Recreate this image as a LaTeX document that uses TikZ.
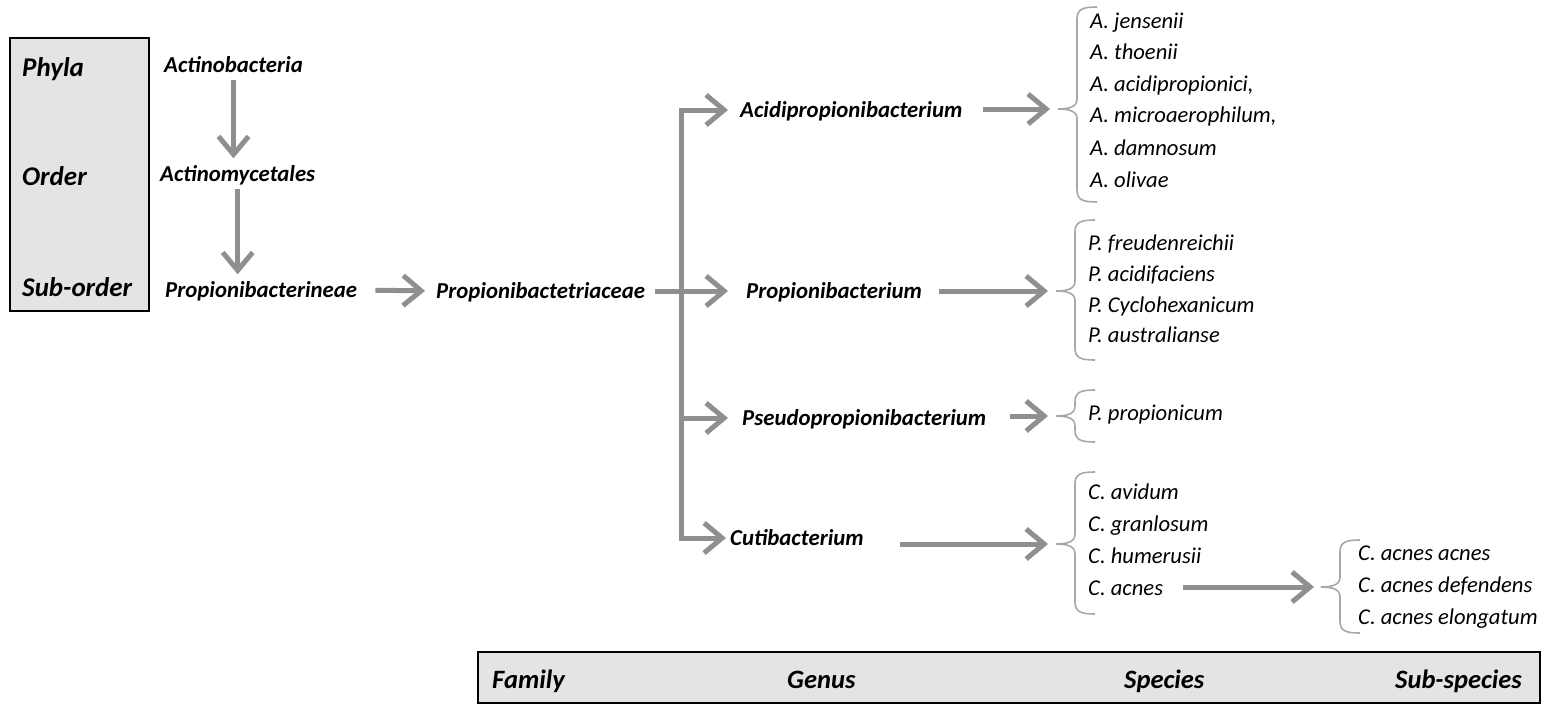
\documentclass[tikz,border=0pt]{standalone}
\usepackage{fontspec}
\setmainfont{Carlito}
\usetikzlibrary{arrows.meta}
\definecolor{arrgray}{HTML}{8F8F8F}
\definecolor{brgray}{HTML}{A8A8A8}
\definecolor{boxgray}{HTML}{E4E4E4}
\newcommand\taxbrace[5]{% name, X, M, T, B
 \draw[brc] (#2+20,#4) .. controls (#2+6,#4) and (#2,#4+2) .. (#2,#4+12) -- (#2,#3-10) .. controls (#2,#3-3) and (#2-6,#3) .. (#2-19,#3) .. controls (#2-6,#3) and (#2,#3+3) .. (#2,#3+10) -- (#2,#5-12) .. controls (#2,#5-2) and (#2+6,#5) .. (#2+20,#5);
 \coordinate (#1) at (#2-19,#3);}
\tikzset{
 arr/.style={draw=arrgray, line width=5pt, -{Straight Barb[length=18pt,width=30pt,line width=5pt]}},
 trunk/.style={draw=arrgray, line width=5pt},
 brc/.style={draw=brgray, line width=1.6pt},
 rankbox/.style={draw=black, fill=boxgray, line width=1.5pt},
 lvl/.style={font=\fontsize{22.8}{27}\selectfont\bfseries\itshape, inner sep=0pt, anchor=west, text height=20pt, text depth=5pt},
 sp/.style={font=\fontsize{22.6}{27}\selectfont\itshape, inner sep=0pt, anchor=west, text height=20pt, text depth=5pt},
 rank/.style={font=\fontsize{27}{31}\selectfont\bfseries\itshape, inner sep=0pt, anchor=west, text height=24pt, text depth=6pt},
 rankb/.style={rank, font=\fontsize{26.5}{31}\selectfont\bfseries\itshape}
}
\begin{document}
\begin{tikzpicture}[x=1pt,y=-1pt]
\useasboundingbox (0,0) rectangle (1542,704);
% left rank box
\draw[rankbox] (10,38) rectangle (149,311);
\node[rank] (phyla) at (22,67) {Phyla};
\node[rank] (order) at (22,176) {Order};
\node[rank] (suborder) at (22,287) {Sub-order};
% upper hierarchy
\node[lvl] (actb) at (164,65) {Actinobacteria};
\node[lvl] (actm) at (160,174) {Actinomycetales};
\node[lvl] (prb) at (165,290) {Propionibacterineae};
\draw[arr, shorten <=2pt, shorten >=3pt] (actb.south) -- (actb.south |- actm.north);
\draw[arr, shorten <=2pt, shorten >=3pt] (actm.south) -- (actm.south |- prb.north);
\node[lvl] (fam) at (436,291) {Propionibactetriaceae};
\draw[arr, shorten <=18pt, shorten >=11pt] (prb.east) -- (fam.west);
% branching
\coordinate (j1) at (681,110);
\coordinate (j2) at (681,291);
\coordinate (j3) at (681,418);
\coordinate (j4) at (681,538);
\draw[trunk] (fam.east) ++(10,0) -- (j2);
\draw[trunk, line cap=rect] (j1) -- (j4);
\node[lvl] (acid) at (740,110) {Acidipropionibacterium};
\node[lvl] (prop) at (746,291) {Propionibacterium};
\node[lvl] (pseu) at (742,418) {Pseudopropionibacterium};
\node[lvl] (cuti) at (730,538) {Cutibacterium};
\draw[arr, shorten >=12pt] (j1) -- (acid.west);
\draw[arr, shorten >=18pt] (j2) -- (prop.west);
\draw[arr, shorten >=14pt] (j3) -- (pseu.west);
\draw[arr, shorten >=4pt] (j4) -- (cuti.west);
% braces
\taxbrace{bA}{1077}{109}{7}{202}
\taxbrace{bP}{1075}{291}{220}{360}
\taxbrace{bPs}{1075}{416}{390}{442}
\taxbrace{bC}{1075}{544}{472}{614}
\taxbrace{bS}{1340}{587}{540}{633}
\draw[arr, shorten <=20pt, shorten >=8pt] (acid.east |- bA) -- (bA);
\draw[arr, shorten <=17pt, shorten >=8pt] (prop.east |- bP) -- (bP);
\draw[arr, shorten <=23pt, shorten >=8pt] (pseu.east |- bPs) -- (bPs);
\draw[arr, shorten <=36pt, shorten >=8pt] (cuti.east |- bC) -- (bC);
% species
\node[sp] (a1) at (1090,21) {A. jensenii};
\node[sp] (a2) at (1090,52) {A. thoenii};
\node[sp] (a3) at (1090,84) {A. acidipropionici,};
\node[sp] (a4) at (1090,115) {A. microaerophilum,};
\node[sp] (a5) at (1090,148) {A. damnosum};
\node[sp] (a6) at (1090,180) {A. olivae};
\node[sp] (p1) at (1088,243) {P. freudenreichii};
\node[sp] (p2) at (1088,274) {P. acidifaciens};
\node[sp] (p3) at (1088,305) {P. Cyclohexanicum};
\node[sp] (p4) at (1088,335) {P. australianse};
\node[sp] (ps1) at (1088,413) {P. propionicum};
\node[sp] (c1) at (1088,492) {C. avidum};
\node[sp] (c2) at (1088,524) {C. granlosum};
\node[sp] (c3) at (1088,556) {C. humerusii};
\node[sp] (c4) at (1088,588) {C. acnes};
\node[sp] (s1) at (1358,553) {C. acnes acnes};
\node[sp] (s2) at (1358,585) {C. acnes defendens};
\node[sp] (s3) at (1358,617) {C. acnes elongatum};
\draw[arr, shorten <=20pt, shorten >=7pt] (c4.east |- bS) -- (bS);
% bottom rank box
\draw[rankbox] (478,652) rectangle (1540,703);
\node[rankb] (rfam) at (492,679) {Family};
\node[rankb] (rgen) at (787,679) {Genus};
\node[rankb] (rspe) at (1124,679) {Species};
\node[rankb] (rsub) at (1395,679) {Sub-species};
\end{tikzpicture}
\end{document}
